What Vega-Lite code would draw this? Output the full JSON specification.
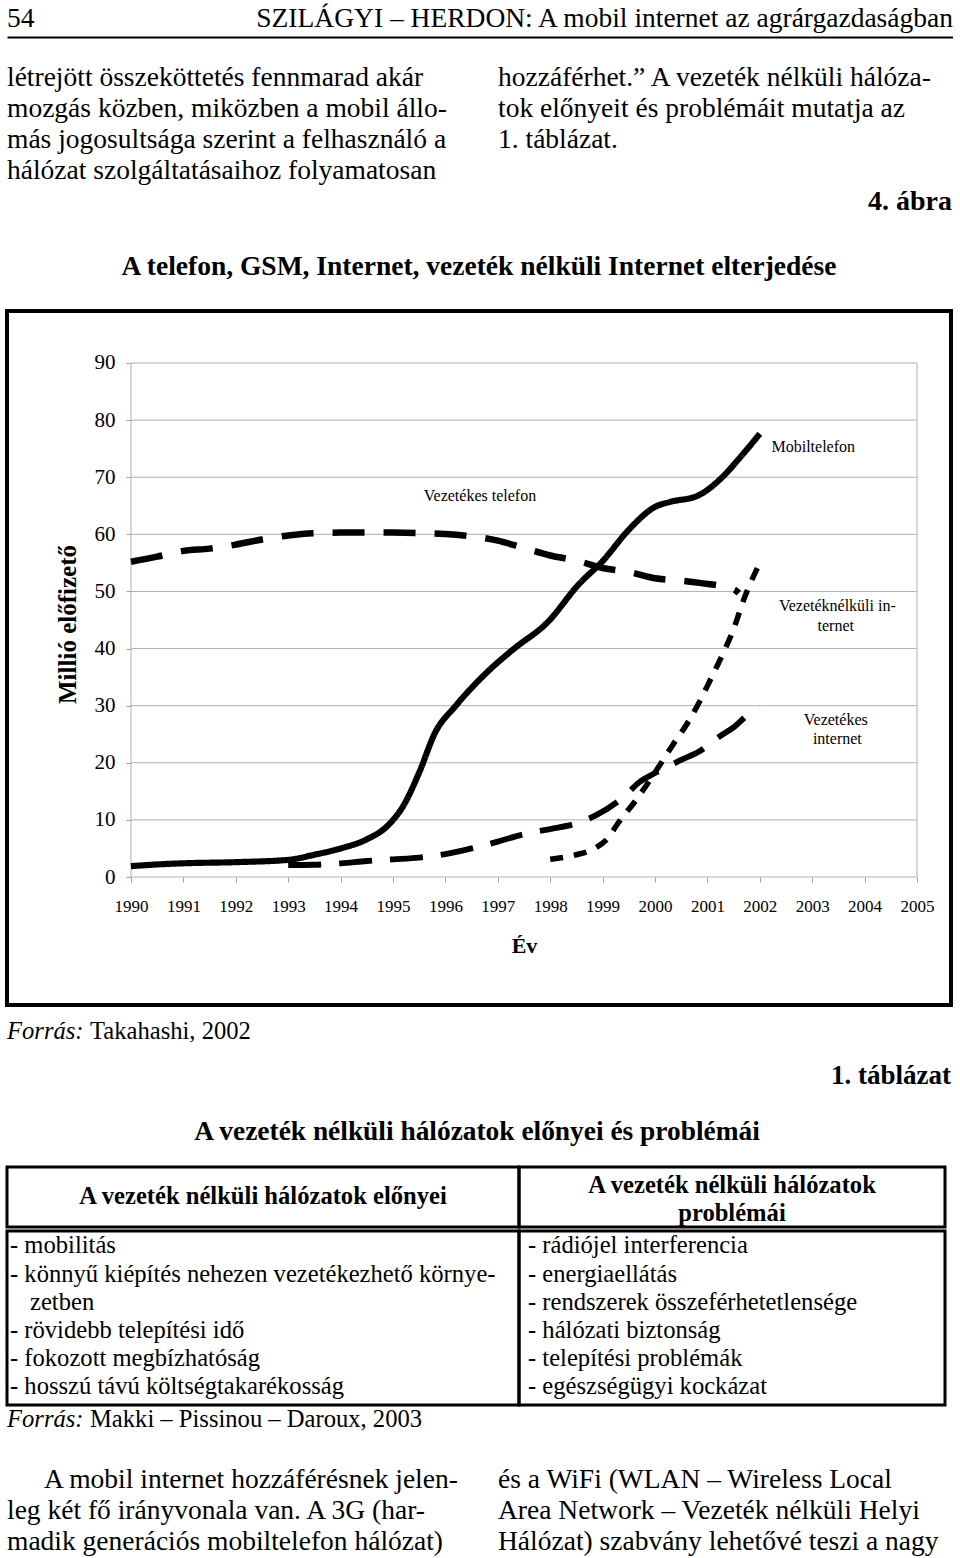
{
  "$schema": "https://vega.github.io/schema/vega-lite/v6.json",
  "background": "white",
  "padding": {"left": 5, "top": 0, "right": 0, "bottom": 0},
  "spacing": 0,
  "bounds": "full",
  "config": {
    "view": {"stroke": null},
    "font": "Liberation Serif",
    "mark": {"color": "black"},
    "text": {"font": "Liberation Serif", "color": "black"},
    "axis": {"labelFont": "Liberation Serif", "titleFont": "Liberation Serif"},
    "title": {"font": "Liberation Serif", "color": "black"}
  },
  "datasets": {
    "series": [
      {"series": "Vezetékes telefon", "year": 1990, "value": 55.2},
      {"series": "Vezetékes telefon", "year": 1990.5, "value": 56.1},
      {"series": "Vezetékes telefon", "year": 1991, "value": 57.1},
      {"series": "Vezetékes telefon", "year": 1991.5, "value": 57.5},
      {"series": "Vezetékes telefon", "year": 1992, "value": 58.2},
      {"series": "Vezetékes telefon", "year": 1992.5, "value": 59.1},
      {"series": "Vezetékes telefon", "year": 1993, "value": 59.8},
      {"series": "Vezetékes telefon", "year": 1993.5, "value": 60.2},
      {"series": "Vezetékes telefon", "year": 1994, "value": 60.3},
      {"series": "Vezetékes telefon", "year": 1995, "value": 60.3},
      {"series": "Vezetékes telefon", "year": 1996, "value": 60.05},
      {"series": "Vezetékes telefon", "year": 1996.5, "value": 59.65},
      {"series": "Vezetékes telefon", "year": 1997, "value": 58.9},
      {"series": "Vezetékes telefon", "year": 1997.5, "value": 57.6},
      {"series": "Vezetékes telefon", "year": 1998, "value": 56.3},
      {"series": "Vezetékes telefon", "year": 1998.5, "value": 55.4},
      {"series": "Vezetékes telefon", "year": 1999, "value": 54.1},
      {"series": "Vezetékes telefon", "year": 1999.5, "value": 53.4},
      {"series": "Vezetékes telefon", "year": 2000, "value": 52.3},
      {"series": "Vezetékes telefon", "year": 2000.5, "value": 51.9},
      {"series": "Vezetékes telefon", "year": 2000.85, "value": 51.5},
      {"series": "Vezetékes telefon", "year": 2001.5, "value": 50.4},
      {"series": "Vezetékes telefon", "year": 2001.6, "value": 49.7},
      {"series": "Mobiltelefon", "year": 1990, "value": 1.9},
      {"series": "Mobiltelefon", "year": 1990.5, "value": 2.2},
      {"series": "Mobiltelefon", "year": 1991, "value": 2.4},
      {"series": "Mobiltelefon", "year": 1992, "value": 2.6},
      {"series": "Mobiltelefon", "year": 1993, "value": 3.0},
      {"series": "Mobiltelefon", "year": 1993.5, "value": 3.9},
      {"series": "Mobiltelefon", "year": 1994, "value": 5.0},
      {"series": "Mobiltelefon", "year": 1994.5, "value": 6.6},
      {"series": "Mobiltelefon", "year": 1994.9, "value": 9.0},
      {"series": "Mobiltelefon", "year": 1995.2, "value": 12.5},
      {"series": "Mobiltelefon", "year": 1995.5, "value": 18.3},
      {"series": "Mobiltelefon", "year": 1995.8, "value": 25.2},
      {"series": "Mobiltelefon", "year": 1996.2, "value": 30.0},
      {"series": "Mobiltelefon", "year": 1996.8, "value": 35.9},
      {"series": "Mobiltelefon", "year": 1997.3, "value": 39.9},
      {"series": "Mobiltelefon", "year": 1997.95, "value": 44.6},
      {"series": "Mobiltelefon", "year": 1998.55, "value": 51.3},
      {"series": "Mobiltelefon", "year": 1999, "value": 55.3},
      {"series": "Mobiltelefon", "year": 1999.5, "value": 60.8},
      {"series": "Mobiltelefon", "year": 2000, "value": 64.8},
      {"series": "Mobiltelefon", "year": 2000.3, "value": 65.7},
      {"series": "Mobiltelefon", "year": 2000.8, "value": 66.7},
      {"series": "Mobiltelefon", "year": 2001.25, "value": 69.7},
      {"series": "Mobiltelefon", "year": 2001.6, "value": 73.2},
      {"series": "Mobiltelefon", "year": 2002, "value": 77.6},
      {"series": "Vezetékes internet", "year": 1993, "value": 2.1},
      {"series": "Vezetékes internet", "year": 1993.5, "value": 2.15},
      {"series": "Vezetékes internet", "year": 1994, "value": 2.4},
      {"series": "Vezetékes internet", "year": 1994.5, "value": 2.8},
      {"series": "Vezetékes internet", "year": 1995, "value": 3.1},
      {"series": "Vezetékes internet", "year": 1995.5, "value": 3.4},
      {"series": "Vezetékes internet", "year": 1996, "value": 4.0},
      {"series": "Vezetékes internet", "year": 1996.5, "value": 5.0},
      {"series": "Vezetékes internet", "year": 1997, "value": 6.2},
      {"series": "Vezetékes internet", "year": 1997.5, "value": 7.5},
      {"series": "Vezetékes internet", "year": 1998, "value": 8.4},
      {"series": "Vezetékes internet", "year": 1998.5, "value": 9.4},
      {"series": "Vezetékes internet", "year": 1998.85, "value": 10.7},
      {"series": "Vezetékes internet", "year": 1999.4, "value": 14.0},
      {"series": "Vezetékes internet", "year": 1999.7, "value": 16.6},
      {"series": "Vezetékes internet", "year": 2000, "value": 18.2},
      {"series": "Vezetékes internet", "year": 2000.5, "value": 20.5},
      {"series": "Vezetékes internet", "year": 2000.85, "value": 22.0},
      {"series": "Vezetékes internet", "year": 2001.25, "value": 24.7},
      {"series": "Vezetékes internet", "year": 2001.5, "value": 26.2},
      {"series": "Vezetékes internet", "year": 2001.85, "value": 28.9},
      {"series": "Vezetékes internet", "year": 2002, "value": 29.4},
      {"series": "Vezetéknélküli internet", "year": 1998, "value": 3.1},
      {"series": "Vezetéknélküli internet", "year": 1998.5, "value": 3.9},
      {"series": "Vezetéknélküli internet", "year": 1998.85, "value": 5.0},
      {"series": "Vezetéknélküli internet", "year": 1999.1, "value": 6.8},
      {"series": "Vezetéknélküli internet", "year": 1999.3, "value": 9.5},
      {"series": "Vezetéknélküli internet", "year": 1999.6, "value": 13.0},
      {"series": "Vezetéknélküli internet", "year": 2000, "value": 18.3},
      {"series": "Vezetéknélküli internet", "year": 2000.33, "value": 23.0},
      {"series": "Vezetéknélküli internet", "year": 2000.63, "value": 27.1},
      {"series": "Vezetéknélküli internet", "year": 2000.85, "value": 30.7},
      {"series": "Vezetéknélküli internet", "year": 2001.05, "value": 34.4},
      {"series": "Vezetéknélküli internet", "year": 2001.25, "value": 38.2},
      {"series": "Vezetéknélküli internet", "year": 2001.5, "value": 43.4},
      {"series": "Vezetéknélküli internet", "year": 2001.7, "value": 48.7},
      {"series": "Vezetéknélküli internet", "year": 2002, "value": 55.0}
    ],
    "grid": [{"value": 0}, {"value": 10}, {"value": 20}, {"value": 30}, {"value": 40}, {"value": 50}, {"value": 60}, {"value": 70}, {"value": 80}, {"value": 90}],
    "vr": [{"year": 1990}, {"year": 2005}],
    "labels": [
      {"text": "Vezetékes telefon", "year": 1996.66, "value": 66.7},
      {"text": "Mobiltelefon", "year": 2003.02, "value": 75.3},
      {"text": "Vezetéknélküli in-", "year": 2003.48, "value": 47.45},
      {"text": "ternet", "year": 2003.45, "value": 43.95},
      {"text": "Vezetékes", "year": 2003.45, "value": 27.5},
      {"text": "internet", "year": 2003.48, "value": 24.2}
    ]
  },
  "vconcat": [
    {
      "width": 946,
      "height": 37,
      "data": {"values": [
        {"pos": "start", "text": "54"},
        {"pos": "end", "text": "SZILÁGYI – HERDON: A mobil internet az agrárgazdaságban"}
      ]},
      "encoding": {
        "x": {"field": "pos", "type": "nominal", "scale": {"type": "point", "domain": ["start", "end"], "padding": 0}, "axis": {"title": null, "labels": false, "ticks": false, "domain": true, "domainColor": "black", "domainWidth": 2, "grid": false}},
        "text": {"field": "text"}
      },
      "layer": [
        {"transform": [{"filter": "datum.pos === 'start'"}], "mark": {"type": "text", "align": "left", "baseline": "middle", "fontSize": 27.5, "color": "black"}},
        {"transform": [{"filter": "datum.pos === 'end'"}], "mark": {"type": "text", "align": "right", "baseline": "middle", "fontSize": 27.5, "color": "black"}}
      ]
    },
    {
      "width": 945,
      "height": 188,
      "data": {"values": [
        {"col": "left", "line": 1, "kind": "p", "text": "létrejött összeköttetés fennmarad akár"},
        {"col": "left", "line": 2, "kind": "p", "text": "mozgás közben, miközben a mobil állo-"},
        {"col": "left", "line": 3, "kind": "p", "text": "más jogosultsága szerint a felhasználó a"},
        {"col": "left", "line": 4, "kind": "p", "text": "hálózat szolgáltatásaihoz folyamatosan"},
        {"col": "right", "line": 1, "kind": "p", "text": "hozzáférhet.” A vezeték nélküli hálóza-"},
        {"col": "right", "line": 2, "kind": "p", "text": "tok előnyeit és problémáit mutatja az"},
        {"col": "right", "line": 3, "kind": "p", "text": "1. táblázat."},
        {"col": "right", "line": 5, "kind": "caption", "text": "4. ábra"}
      ]},
      "layer": [
        {
          "transform": [{"filter": "datum.kind === 'p'"}],
          "mark": {"type": "text", "align": "left", "baseline": "middle", "fontSize": 27.5, "color": "black"},
          "encoding": {
            "x": {"field": "col", "type": "nominal", "bandPosition": 0, "scale": {"type": "band", "domain": ["left", "right"], "paddingInner": 0.0754, "paddingOuter": 0}, "axis": null},
            "y": {"field": "line", "type": "quantitative", "scale": {"domain": [-0.3226, 5.742], "reverse": true, "nice": false, "zero": false}, "axis": null},
            "text": {"field": "text"}
          }
        },
        {
          "transform": [{"filter": "datum.kind === 'caption'"}],
          "mark": {"type": "text", "align": "right", "baseline": "middle", "fontSize": 28, "fontWeight": "bold", "color": "black"},
          "encoding": {
            "x": {"field": "col", "type": "nominal", "bandPosition": 1, "scale": {"type": "band", "domain": ["left", "right"], "paddingInner": 0.0754, "paddingOuter": 0}, "axis": null},
            "y": {"field": "line", "type": "quantitative", "scale": {"domain": [-0.3226, 5.742], "reverse": true, "nice": false, "zero": false}, "axis": null},
            "text": {"field": "text"}
          }
        }
      ]
    },
    {
      "width": 944,
      "height": 84,
      "data": {"values": [{"text": "A telefon, GSM, Internet, vezeték nélküli Internet elterjedése"}]},
      "mark": {"type": "text", "align": "center", "baseline": "middle", "fontSize": 27.5, "fontWeight": "bold", "color": "black"},
      "encoding": {"text": {"field": "text"}}
    },
    {
      "width": 944,
      "height": 694,
      "view": {"stroke": "black", "strokeWidth": 4},
      "layer": [
        {
          "data": {"name": "grid"},
          "mark": {"type": "rule", "color": "#b0b0b0", "strokeWidth": 1},
          "encoding": {
            "y": {"field": "value", "type": "quantitative"},
            "x": {"datum": 1990, "type": "quantitative"},
            "x2": {"datum": 2005}
          }
        },
        {
          "data": {"name": "vr"},
          "mark": {"type": "rule", "color": "#b0b0b0", "strokeWidth": 1},
          "encoding": {
            "x": {"field": "year", "type": "quantitative"},
            "y": {"datum": 0, "type": "quantitative"},
            "y2": {"datum": 90}
          }
        },
        {
          "data": {"name": "series"},
          "mark": {"type": "line", "interpolate": "monotone", "strokeCap": "butt", "strokeJoin": "round", "color": "black"},
          "encoding": {
            "x": {
              "field": "year", "type": "quantitative",
              "scale": {"domain": [1987.634, 2005.649], "nice": false, "zero": false},
              "axis": {
                "values": [1990, 1991, 1992, 1993, 1994, 1995, 1996, 1997, 1998, 1999, 2000, 2001, 2002, 2003, 2004, 2005],
                "format": "d", "offset": -128, "domain": false, "grid": false,
                "ticks": true, "tickSize": 5, "tickColor": "#a0a0a0", "tickWidth": 1,
                "labelFontSize": 17, "labelColor": "black", "labelPadding": 16, "labelFlush": false, "labelOverlap": false,
                "title": "Év", "titleFontSize": 22, "titleFontWeight": "bold", "titleColor": "black",
                "titleX": 517, "titleY": 75, "titleBaseline": "alphabetic", "titleAlign": "center"
              }
            },
            "y": {
              "field": "value", "type": "quantitative",
              "scale": {"domain": [-22.412, 99.105], "nice": false, "zero": false},
              "axis": {
                "values": [0, 10, 20, 30, 40, 50, 60, 70, 80, 90],
                "offset": -124, "domain": false, "grid": false,
                "ticks": true, "tickSize": 5, "tickColor": "#a0a0a0", "tickWidth": 1,
                "labelFontSize": 21, "labelColor": "black", "labelPadding": 11, "labelFlush": false, "labelOverlap": false,
                "title": "Millió előfizető", "titleFontSize": 25, "titleFontWeight": "bold", "titleColor": "black",
                "titleX": -56, "titleY": 313, "titleBaseline": "alphabetic", "titleAlign": "center", "titleAngle": 270
              }
            },
            "detail": {"field": "series"},
            "strokeDash": {
              "field": "series", "type": "nominal",
              "scale": {"domain": ["Vezetékes telefon", "Mobiltelefon", "Vezetékes internet", "Vezetéknélküli internet"], "range": [[32, 19], [1, 0], [33, 18], [13, 11]]},
              "legend": null
            },
            "strokeWidth": {
              "field": "series", "type": "nominal",
              "scale": {"domain": ["Vezetékes telefon", "Mobiltelefon", "Vezetékes internet", "Vezetéknélküli internet"], "range": [6.5, 5.5, 6.5, 6.5]},
              "legend": null
            }
          }
        },
        {
          "data": {"name": "labels"},
          "mark": {"type": "text", "align": "center", "baseline": "middle", "fontSize": 16, "color": "black"},
          "encoding": {
            "x": {"field": "year", "type": "quantitative"},
            "y": {"field": "value", "type": "quantitative"},
            "text": {"field": "text"}
          }
        }
      ]
    },
    {
      "width": 944,
      "height": 92,
      "data": {"values": [
        {"pos": "start", "line": 1, "kind": "src", "text": "Forrás:"},
        {"pos": "start", "line": 1, "kind": "ref", "text": "Takahashi, 2002"},
        {"pos": "end", "line": 2, "kind": "caption", "text": "1. táblázat"}
      ]},
      "encoding": {
        "x": {"field": "pos", "type": "nominal", "scale": {"type": "point", "domain": ["start", "end"], "padding": 0}, "axis": null},
        "y": {"field": "line", "type": "quantitative", "scale": {"domain": [0.4318, 2.5227], "reverse": true, "nice": false, "zero": false}, "axis": null},
        "text": {"field": "text"}
      },
      "layer": [
        {"transform": [{"filter": "datum.kind === 'src'"}], "mark": {"type": "text", "align": "left", "baseline": "middle", "fontSize": 24.6, "fontStyle": "italic", "color": "black"}},
        {"transform": [{"filter": "datum.kind === 'ref'"}], "mark": {"type": "text", "align": "left", "baseline": "middle", "fontSize": 24.6, "dx": 83, "color": "black"}},
        {"transform": [{"filter": "datum.kind === 'caption'"}], "mark": {"type": "text", "align": "right", "baseline": "middle", "fontSize": 27, "fontWeight": "bold", "color": "black"}}
      ]
    },
    {
      "width": 940,
      "height": 66,
      "data": {"values": [{"text": "A vezeték nélküli hálózatok előnyei és problémái"}]},
      "mark": {"type": "text", "align": "center", "baseline": "middle", "fontSize": 27.4, "fontWeight": "bold", "color": "black"},
      "encoding": {"text": {"field": "text"}}
    },
    {
      "spacing": 0,
      "bounds": "full",
      "vconcat": [
        {
          "spacing": 0,
          "bounds": "flush",
          "hconcat": [
            {
              "width": 512,
              "height": 60,
              "view": {"stroke": "black", "strokeWidth": 3},
              "data": {"values": [{"text": "A vezeték nélküli hálózatok előnyei"}]},
              "mark": {"type": "text", "align": "center", "baseline": "middle", "fontSize": 24.6, "fontWeight": "bold", "color": "black"},
              "encoding": {"text": {"field": "text"}}
            },
            {
              "width": 426,
              "height": 60,
              "view": {"stroke": "black", "strokeWidth": 3},
              "data": {"values": [
                {"line": 1, "text": "A vezeték nélküli hálózatok"},
                {"line": 2, "text": "problémái"}
              ]},
              "mark": {"type": "text", "align": "center", "baseline": "middle", "fontSize": 24.6, "fontWeight": "bold", "color": "black"},
              "encoding": {
                "y": {"field": "line", "type": "quantitative", "scale": {"domain": [0.3393, 2.482], "reverse": true, "nice": false, "zero": false}, "axis": null},
                "text": {"field": "text"}
              }
            }
          ]
        },
        {
          "spacing": 0,
          "bounds": "flush",
          "hconcat": [
            {
              "width": 512,
              "height": 174,
              "view": {"stroke": "black", "strokeWidth": 3},
              "data": {"values": [
                {"pos": "start", "line": 1, "cont": false, "text": "- mobilitás"},
                {"pos": "start", "line": 2, "cont": false, "text": "- könnyű kiépítés nehezen vezetékezhető környe-"},
                {"pos": "start", "line": 3, "cont": true, "text": "zetben"},
                {"pos": "start", "line": 4, "cont": false, "text": "- rövidebb telepítési idő"},
                {"pos": "start", "line": 5, "cont": false, "text": "- fokozott megbízhatóság"},
                {"pos": "start", "line": 6, "cont": false, "text": "- hosszú távú költségtakarékosság"}
              ]},
              "encoding": {
                "x": {"field": "pos", "type": "nominal", "scale": {"type": "point", "domain": ["start", "end"], "padding": 0}, "axis": null},
                "y": {"field": "line", "type": "quantitative", "scale": {"domain": [0.4504, 6.6206], "reverse": true, "nice": false, "zero": false}, "axis": null},
                "text": {"field": "text"}
              },
              "layer": [
                {"transform": [{"filter": "!datum.cont"}], "mark": {"type": "text", "align": "left", "baseline": "middle", "fontSize": 24.6, "dx": 3, "color": "black"}},
                {"transform": [{"filter": "datum.cont"}], "mark": {"type": "text", "align": "left", "baseline": "middle", "fontSize": 24.6, "dx": 23, "color": "black"}}
              ]
            },
            {
              "width": 426,
              "height": 174,
              "view": {"stroke": "black", "strokeWidth": 3},
              "data": {"values": [
                {"pos": "start", "line": 1, "text": "- rádiójel interferencia"},
                {"pos": "start", "line": 2, "text": "- energiaellátás"},
                {"pos": "start", "line": 3, "text": "- rendszerek összeférhetetlensége"},
                {"pos": "start", "line": 4, "text": "- hálózati biztonság"},
                {"pos": "start", "line": 5, "text": "- telepítési problémák"},
                {"pos": "start", "line": 6, "text": "- egészségügyi kockázat"}
              ]},
              "mark": {"type": "text", "align": "left", "baseline": "middle", "fontSize": 24.6, "dx": 9, "color": "black"},
              "encoding": {
                "x": {"field": "pos", "type": "nominal", "scale": {"type": "point", "domain": ["start", "end"], "padding": 0}, "axis": null},
                "y": {"field": "line", "type": "quantitative", "scale": {"domain": [0.4504, 6.6206], "reverse": true, "nice": false, "zero": false}, "axis": null},
                "text": {"field": "text"}
              }
            }
          ]
        }
      ]
    },
    {
      "width": 944,
      "height": 22,
      "data": {"values": [
        {"pos": "start", "kind": "src", "text": "Forrás:"},
        {"pos": "start", "kind": "ref", "text": "Makki – Pissinou – Daroux, 2003"}
      ]},
      "encoding": {
        "x": {"field": "pos", "type": "nominal", "scale": {"type": "point", "domain": ["start", "end"], "padding": 0}, "axis": null},
        "text": {"field": "text"}
      },
      "layer": [
        {"transform": [{"filter": "datum.kind === 'src'"}], "mark": {"type": "text", "align": "left", "baseline": "middle", "fontSize": 24.6, "fontStyle": "italic", "color": "black"}},
        {"transform": [{"filter": "datum.kind === 'ref'"}], "mark": {"type": "text", "align": "left", "baseline": "middle", "fontSize": 24.6, "dx": 83, "color": "black"}}
      ]
    },
    {
      "width": 945,
      "height": 128,
      "data": {"values": [
        {"col": "left", "line": 1, "first": true, "text": "A mobil internet hozzáférésnek jelen-"},
        {"col": "left", "line": 2, "first": false, "text": "leg két fő irányvonala van. A 3G (har-"},
        {"col": "left", "line": 3, "first": false, "text": "madik generációs mobiltelefon hálózat)"},
        {"col": "right", "line": 1, "first": false, "text": "és a WiFi (WLAN – Wireless Local"},
        {"col": "right", "line": 2, "first": false, "text": "Area Network – Vezeték nélküli Helyi"},
        {"col": "right", "line": 3, "first": false, "text": "Hálózat) szabvány lehetővé teszi a nagy"}
      ]},
      "encoding": {
        "x": {"field": "col", "type": "nominal", "bandPosition": 0, "scale": {"type": "band", "domain": ["left", "right"], "paddingInner": 0.0754, "paddingOuter": 0}, "axis": null},
        "y": {"field": "line", "type": "quantitative", "scale": {"domain": [-0.5484, 3.5806], "reverse": true, "nice": false, "zero": false}, "axis": null},
        "text": {"field": "text"}
      },
      "layer": [
        {"transform": [{"filter": "datum.first"}], "mark": {"type": "text", "align": "left", "baseline": "middle", "fontSize": 27.5, "dx": 37, "color": "black"}},
        {"transform": [{"filter": "!datum.first"}], "mark": {"type": "text", "align": "left", "baseline": "middle", "fontSize": 27.5, "color": "black"}}
      ]
    }
  ]
}
